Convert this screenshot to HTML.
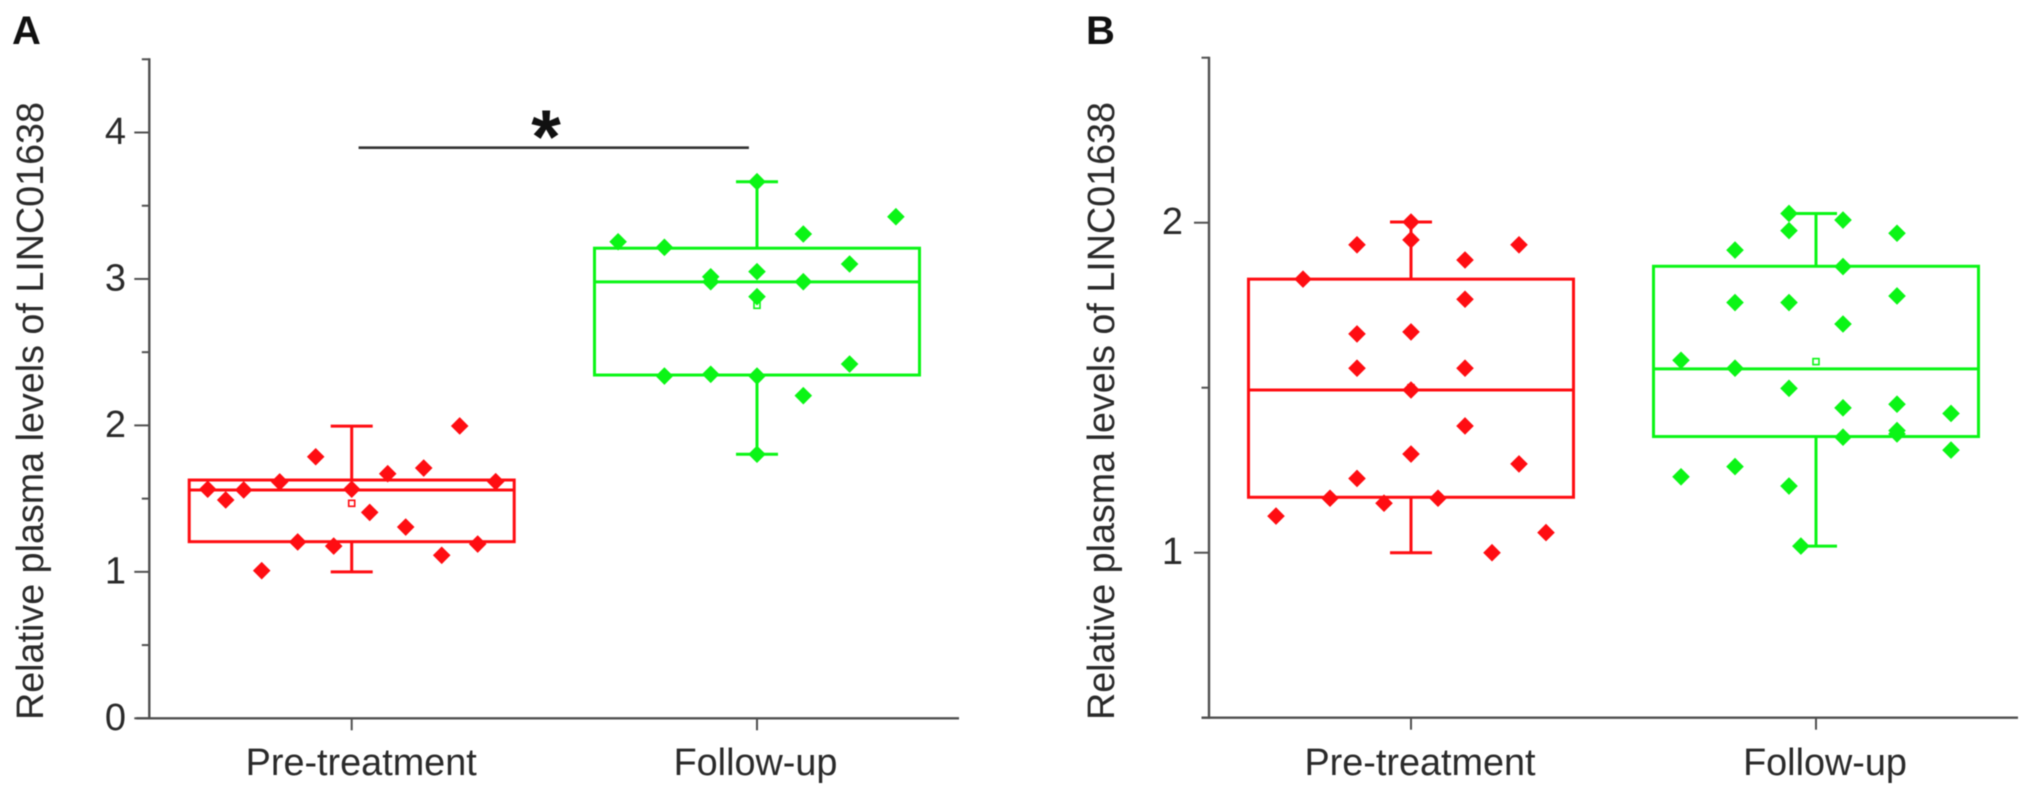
<!DOCTYPE html>
<html lang="en">
<head>
<meta charset="utf-8">
<title>Relative plasma levels of LINC01638</title>
<style>
html,body{margin:0;padding:0;background:#fff;}
svg{display:block;filter:blur(0.4px);}
text{font-family:"Liberation Sans",Arial,sans-serif;fill:#2a2a2a;}
</style>
</head>
<body>
<svg id="figure" xmlns="http://www.w3.org/2000/svg" width="2031" height="796" viewBox="0 0 2031 796">
  <rect x="0" y="0" width="2031" height="796" fill="#ffffff"/>
  <g id="panel-a">
    <text x="12" y="44" font-size="40" font-weight="bold" style="fill:#111">A</text>
    <text transform="translate(43,720) rotate(-90)" font-size="37.7">Relative plasma levels of LINC01638</text>
  </g>
  <g id="panel-b">
    <text x="1086" y="44" font-size="40" font-weight="bold" style="fill:#111">B</text>
    <text transform="translate(1114,720) rotate(-90)" font-size="37.7">Relative plasma levels of LINC01638</text>
  </g>
</svg>
<script>
// ---- data ----
const categories = ['Pre-treatment', 'Follow-up'];

const yTicksA = [0, 1, 2, 3, 4];
const yMinorTicksA = [0.5, 1.5, 2.5, 3.5, 4.5];
const yTicksB = [1, 2];
const yMinorTicksB = [0.5, 1.5, 2.5];

// Panel A, pre-treatment
const preValuesA = [1.564, 1.491, 1.559, 1.008, 1.614, 1.204, 1.786, 1.176, 1.564, 1.406, 1.67, 1.306, 1.709, 1.113, 1.996, 1.19, 1.616];
const preColumnsA = [-8, -7, -6, -5, -4, -3, -2, -1, 0, 1, 2, 3, 4, 5, 6, 7, 8];
const preBoxA = { low: 1.0, q1: 1.206, median: 1.559, q3: 1.627, high: 1.995, mean: 1.468 };

// Panel A, follow-up
const followValuesA = [3.254, 3.216, 2.337, 3.015, 2.981, 2.349, 3.664, 3.05, 2.879, 2.337, 1.803, 3.307, 2.981, 2.203, 3.102, 2.419, 3.425];
const followColumnsA = [-3, -2, -2, -1, -1, -1, 0, 0, 0, 0, 0, 1, 1, 1, 2, 2, 3];
const followBoxA = { low: 1.803, q1: 2.344, median: 2.98, q3: 3.21, high: 3.664, mean: 2.82 };

// Panel B, pre-treatment
const preValuesB = [1.111, 1.829, 1.165, 1.933, 1.663, 1.559, 1.225, 1.15, 2.002, 1.948, 1.669, 1.493, 1.299, 1.165, 1.887, 1.768, 1.559, 1.384, 1.0, 1.933, 1.269, 1.061];
const preColumnsB = [-2.5, -2, -1.5, -1, -1, -1, -1, -0.5, 0, 0, 0, 0, 0, 0.5, 1, 1, 1, 1, 1.5, 2, 2, 2.5];
const preBoxB = { low: 1.0, q1: 1.168, median: 1.493, q3: 1.829, high: 2.002, mean: 1.5 };

// Panel B, follow-up
const followValuesB = [1.583, 1.23, 1.917, 1.758, 1.559, 1.261, 2.028, 1.976, 1.758, 1.498, 1.202, 1.02, 2.008, 1.867, 1.693, 1.439, 1.35, 1.968, 1.778, 1.45, 1.37, 1.36, 1.422, 1.311];
const followColumnsB = [-2.5, -2.5, -1.5, -1.5, -1.5, -1.5, -0.5, -0.5, -0.5, -0.5, -0.5, -0.28, 0.5, 0.5, 0.5, 0.5, 0.5, 1.5, 1.5, 1.5, 1.5, 1.5, 2.5, 2.5];
const followBoxB = { low: 1.02, q1: 1.352, median: 1.557, q3: 1.868, high: 2.028, mean: 1.579 };

// Significance bracket in panel A
const bracketValueA = 3.896;
const bracketSpanA = [0.017, 0.98];

// ---- drawing helpers ----
const NS = 'http://www.w3.org/2000/svg';
const RED = '#ff0d12';
const GREEN = '#0bf516';
const AXIS = '#505050';

function make(parent, tag, attrs) {
  const el = document.createElementNS(NS, tag);
  for (const k in attrs) el.setAttribute(k, attrs[k]);
  parent.appendChild(el);
  return el;
}

function linearScale(d0, d1, r0, r1) {
  return function (v) { return r0 + (v - d0) * (r1 - r0) / (d1 - d0); };
}

function drawLine(parent, x1, y1, x2, y2, color, width) {
  return make(parent, 'line', { x1: x1, y1: y1, x2: x2, y2: y2, stroke: color, 'stroke-width': width });
}

function drawAxes(panel, opt) {
  const x = opt.x, y = opt.y;
  const axisX = opt.axisX, axisY = y(opt.yMin);

  const yAxis = drawLine(panel, axisX, y(opt.yMax) - 1, axisX, axisY + 1, AXIS, 2.4);
  
  

  const xAxis = drawLine(panel, axisX + opt.bottomTick, axisY, opt.axisEnd, axisY, AXIS, 2.4);
  
  

  opt.yTicks.forEach(function (v) {
    const t = drawLine(panel, axisX - 15, y(v), axisX, y(v), AXIS, 2);
    
    
    const lab = make(panel, 'text', { x: opt.labelRight, y: y(v) + opt.labelDrop, 'font-size': 38, 'text-anchor': 'end' });
    lab.textContent = String(v);
    
    
  });

  opt.yMinor.forEach(function (v) {
    const t = drawLine(panel, axisX - 7.5, y(v), axisX, y(v), AXIS, 2);
    
    
  });

  categories.forEach(function (c, i) {
    const t = drawLine(panel, x(i), axisY, x(i), axisY + 12, AXIS, 2);
    
    
    const lab = make(panel, 'text', { x: x(i) + opt.catShift[i], y: 775, 'font-size': 37.8, 'text-anchor': 'middle' });
    lab.textContent = c;
    
    
  });
}

function drawBox(panel, box, cx, y, color) {
  const halfW = 162.5, halfCap = 21, lw = 3;
  const g = make(panel, 'g', {});
  
  

  const w1 = drawLine(g, cx, y(box.q3), cx, y(box.high), color, lw);
  
  
  const w2 = drawLine(g, cx, y(box.q1), cx, y(box.low), color, lw);
  
  
  const c1 = drawLine(g, cx - halfCap, y(box.high), cx + halfCap, y(box.high), color, lw);
  
  
  const c2 = drawLine(g, cx - halfCap, y(box.low), cx + halfCap, y(box.low), color, lw);
  
  

  const r = make(g, 'rect', { x: cx - halfW, y: y(box.q3), width: halfW * 2, height: y(box.q1) - y(box.q3), fill: 'none', stroke: color, 'stroke-width': lw });
  
  

  const m = drawLine(g, cx - halfW, y(box.median), cx + halfW, y(box.median), color, lw);
  
  

  const s = make(g, 'rect', { x: cx - 3, y: y(box.mean) - 3, width: 6, height: 6, fill: 'none', stroke: color, 'stroke-width': 1.6 });
  
  
}

function drawPoints(panel, values, columns, cx, step, y, color) {
  const size = 8.8;
  values.forEach(function (v, i) {
    const px = cx + columns[i] * step;
    const py = y(v);
    const d = make(panel, 'polygon', {
      points: px + ',' + (py - size) + ' ' + (px + size) + ',' + py + ' ' + px + ',' + (py + size) + ' ' + (px - size) + ',' + py,
      fill: color
    });
    
    
  });
}

// ---- panel A ----
const panelA = document.getElementById('panel-a');
const xA = linearScale(0, 1, 351.7, 757);
const yA = linearScale(0, 4, 718.3, 132.5);
drawAxes(panelA, {
  x: xA, y: yA, axisX: 149.3, axisEnd: 959, yMin: 0, yMax: 4.5,
  yTicks: yTicksA, yMinor: yMinorTicksA, labelRight: 126, labelDrop: 11.5,
  bottomTick: -13, catShift: [9.5, -1.5]
});
drawBox(panelA, preBoxA, xA(0), yA, RED);
drawPoints(panelA, preValuesA, preColumnsA, xA(0), 18, yA, RED);
drawBox(panelA, followBoxA, xA(1), yA, GREEN);
drawPoints(panelA, followValuesA, followColumnsA, xA(1), 46.3, yA, GREEN);

const bracket = drawLine(panelA, xA(bracketSpanA[0]), yA(bracketValueA), xA(bracketSpanA[1]), yA(bracketValueA), '#333333', 2.6);


const star = make(panelA, 'text', { x: 546, y: 163, 'font-size': 76, 'font-weight': 'bold', 'text-anchor': 'middle' });
star.textContent = '*';


star.style.fill = '#111';

// ---- panel B ----
const panelB = document.getElementById('panel-b');
const xB = linearScale(0, 1, 1411, 1816);
const yB = linearScale(1, 2, 552.7, 222.7);
drawAxes(panelB, {
  x: xB, y: yB, axisX: 1209, axisEnd: 2018, yMin: 0.5, yMax: 2.5,
  yTicks: yTicksB, yMinor: yMinorTicksB, labelRight: 1183, labelDrop: 11.5,
  bottomTick: -7.5, catShift: [9, 9]
});
drawBox(panelB, preBoxB, xB(0), yB, RED);
drawPoints(panelB, preValuesB, preColumnsB, xB(0), 54, yB, RED);
drawBox(panelB, followBoxB, xB(1), yB, GREEN);
drawPoints(panelB, followValuesB, followColumnsB, xB(1), 54, yB, GREEN);
</script>
</body>
</html>
